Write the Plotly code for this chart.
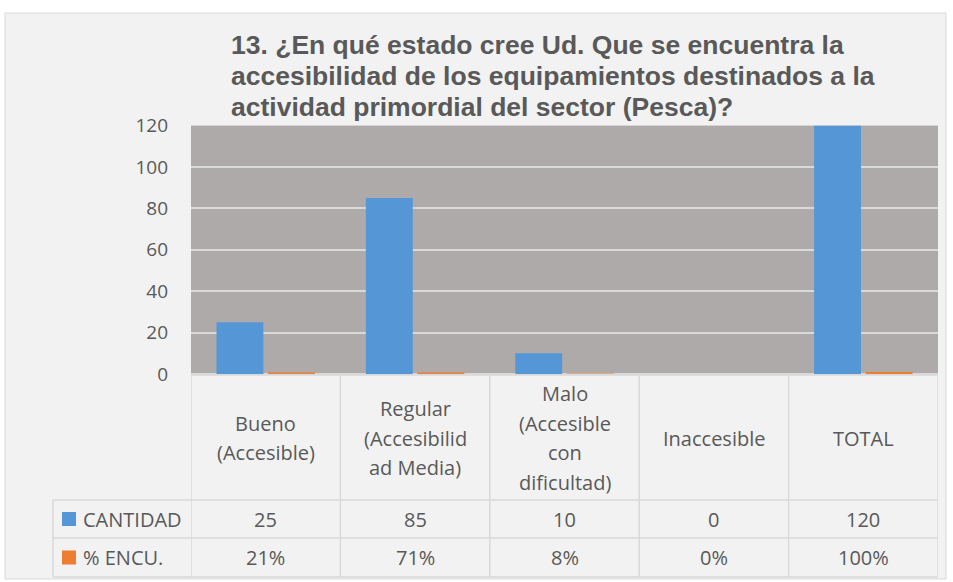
import plotly.graph_objects as go

# Survey data: state of access to fishing equipment
categories = ["Bueno", "Regular", "Malo", "Inaccesible", "TOTAL"]
header_lines = [
    ["Bueno", "(Accesible)"],
    ["Regular", "(Accesibilid", "ad Media)"],
    ["Malo", "(Accesible", "con", "dificultad)"],
    ["Inaccesible"],
    ["TOTAL"],
]
cantidad = [25, 85, 10, 0, 120]
pct_encu = [0.21, 0.71, 0.08, 0.00, 1.00]
series_names = ["CANTIDAD", "% ENCU."]
y_ticks = [0, 20, 40, 60, 80, 100, 120]
title_lines = [
    "13. ¿En qué estado cree Ud. Que se encuentra la",
    "accesibilidad de los equipamientos destinados a la",
    "actividad primordial del sector (Pesca)?",
]

W, H = 953, 582
BLUE = "#5597d6"
ORANGE = "#ed7d31"
TXT = "#595959"
GRID = "#d9d9d9"
CHART_BG = "#f2f2f2"
TFONT = "Open Sans"


def px(x):
    return x / W


def py(y):
    return 1 - y / H


fig = go.Figure()
fig.add_trace(go.Bar(x=categories, y=cantidad, name=series_names[0],
                     marker=dict(color=BLUE, line=dict(width=0))))
fig.add_trace(go.Bar(x=categories, y=pct_encu, name=series_names[1],
                     marker=dict(color=ORANGE, line=dict(width=0))))

plot_left, plot_right, plot_top, plot_bottom = 191, 938, 125.6, 374
table_left = 53
row1, row2, row3 = 500, 538, 577
box_l, box_t, box_r, box_b = 5, 13, 946, 579

shapes = []
# white page around the chart area
for x0, x1, y0, y1 in ((0, W, 0, box_t), (0, W, box_b, H), (0, box_l, 0, H), (box_r, W, 0, H)):
    shapes.append(dict(type="rect", xref="paper", yref="paper",
                       x0=px(x0), x1=px(x1), y0=py(y1), y1=py(y0),
                       fillcolor="white", line=dict(width=0)))
# chart area border
shapes.append(dict(type="rect", xref="paper", yref="paper",
                   x0=px(box_l), x1=px(box_r), y0=py(box_b), y1=py(box_t),
                   line=dict(color="#d9d9d9", width=1)))

line_style = dict(color=GRID, width=1.5)
# horizontal table rules
for yy in (plot_bottom + 1, row1, row2, row3):
    x0 = plot_left if yy < row1 else table_left
    shapes.append(dict(type="line", xref="paper", yref="paper",
                       x0=px(x0), x1=px(plot_right), y0=py(yy), y1=py(yy),
                       line=line_style))
# vertical rules at category boundaries
for k in range(len(categories) + 1):
    shapes.append(dict(type="line", xref="x", yref="paper",
                       x0=k - 0.5, x1=k - 0.5, y0=py(row3), y1=py(plot_bottom),
                       line=line_style))
shapes.append(dict(type="line", xref="paper", yref="paper",
                   x0=px(table_left), x1=px(table_left), y0=py(row3), y1=py(row1),
                   line=line_style))
# legend keys in the table
for color, yc in ((BLUE, (row1 + row2) / 2), (ORANGE, (row2 + row3) / 2)):
    shapes.append(dict(type="rect", xref="paper", yref="paper",
                       x0=px(62), x1=px(76), y0=py(yc + 7), y1=py(yc - 7),
                       fillcolor=color, line=dict(width=0)))

annotations = []
# title
for i, t in enumerate(title_lines):
    annotations.append(dict(text=f"<b>{t}</b>", xref="paper", yref="paper",
                            x=px(229), y=py(45 + 31 * i), xanchor="left", yanchor="middle",
                            showarrow=False,
                            font=dict(family="Liberation Sans, Arial", size=26.5, color=TXT)))

# header row: category names, centered in each column
head_center = (plot_bottom + row1) / 2 + 1
for k, lines in enumerate(header_lines):
    n = len(lines)
    for j, ln in enumerate(lines):
        annotations.append(dict(text=ln, xref="x", yref="paper", x=k,
                                y=py(head_center + (j - (n - 1) / 2) * 29.5),
                                xanchor="center", yanchor="middle", showarrow=False,
                                font=dict(family=TFONT, size=20, color=TXT)))

# data rows
row_values = [[str(v) for v in cantidad], [f"{v:.0%}" for v in pct_encu]]
row_centers = [(row1 + row2) / 2, (row2 + row3) / 2]
for name, vals, yc in zip(series_names, row_values, row_centers):
    annotations.append(dict(text=name, xref="paper", yref="paper", x=px(81), y=py(yc),
                            xanchor="left", yanchor="middle", showarrow=False,
                            font=dict(family=TFONT, size=20, color=TXT)))
    for k, v in enumerate(vals):
        annotations.append(dict(text=v, xref="x", yref="paper", x=k, y=py(yc),
                                xanchor="center", yanchor="middle", showarrow=False,
                                font=dict(family=TFONT, size=20, color=TXT)))

fig.update_layout(
    width=W, height=H, autosize=False,
    margin=dict(l=0, r=0, t=0, b=0, pad=0, autoexpand=False),
    paper_bgcolor=CHART_BG,
    plot_bgcolor="#aeaaa9",
    showlegend=False,
    barmode="group",
    bargap=0.31,
    bargroupgap=0.09,
    shapes=shapes,
    annotations=annotations,
    xaxis=dict(domain=[px(plot_left), px(plot_right)], range=[-0.5, 4.5],
               showticklabels=False, showgrid=False, zeroline=False, fixedrange=True),
    yaxis=dict(domain=[py(plot_bottom), py(plot_top)], range=[0, 120],
               tickvals=y_ticks, showgrid=True, gridcolor=GRID, gridwidth=2,
               zeroline=True, zerolinecolor=GRID, zerolinewidth=2,
               ticks="", ticklabelstandoff=22, automargin=False,
               tickfont=dict(family=TFONT, size=19, color=TXT)),
)

fig.write_html("out.html")
